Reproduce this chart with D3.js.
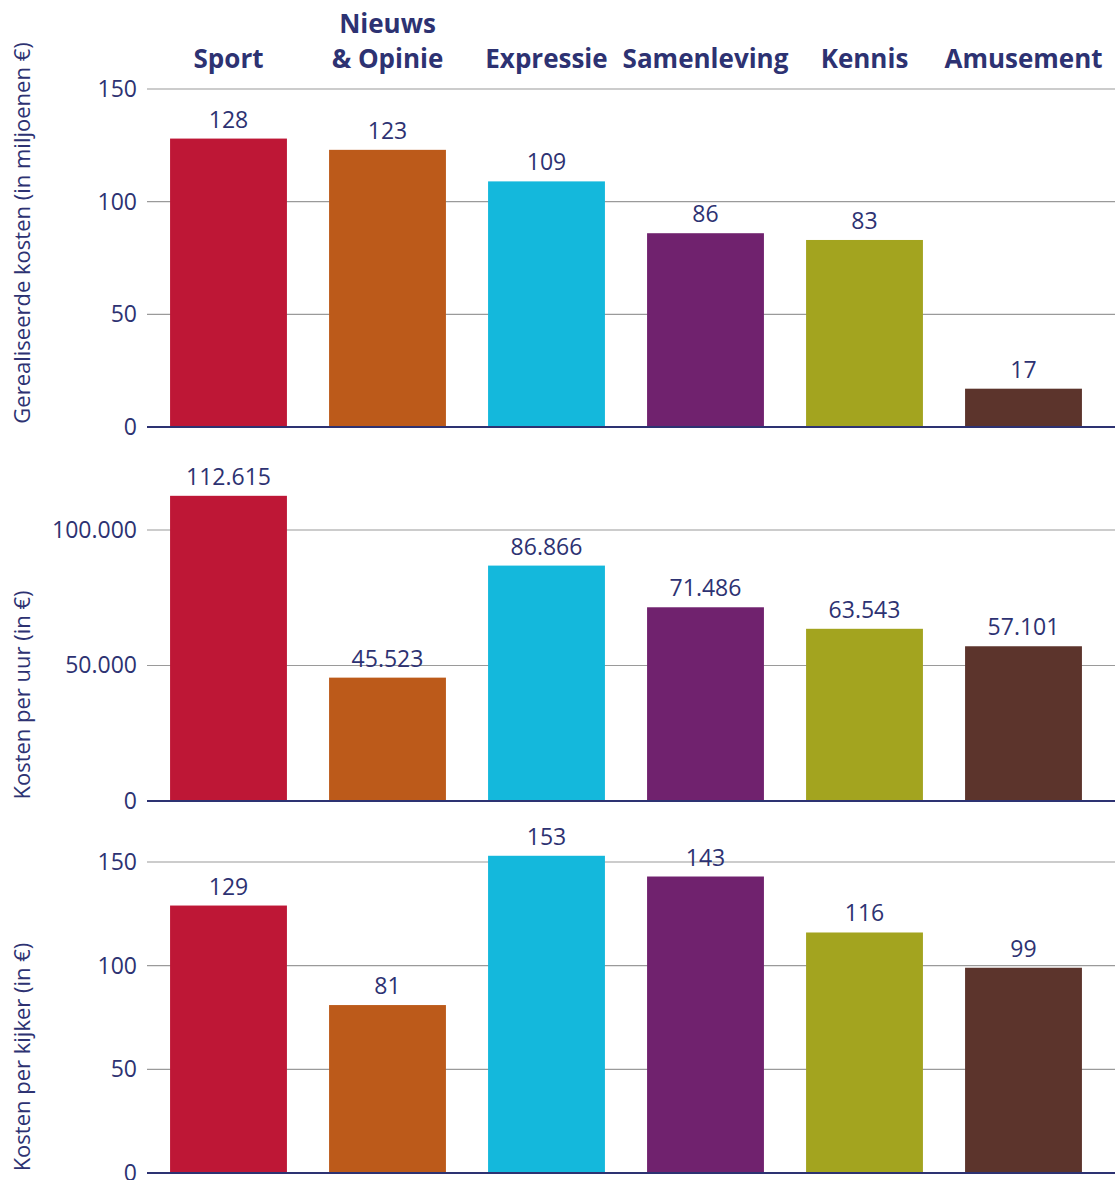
<!DOCTYPE html>
<html>
<head>
<meta charset="utf-8">
<script src="https://cdn.jsdelivr.net/npm/d3@7"></script>
<style>
  body { margin: 0; background: #fff; }
  svg { display: block; font-family: 'Open Sans', sans-serif; }
</style>
</head>
<body>
<div id="chart"></div>
<script>
// categories and their header lines
const categories = ['Sport', 'Nieuws & Opinie', 'Expressie', 'Samenleving', 'Kennis', 'Amusement'];
const headerLines = [['Sport'], ['Nieuws', '& Opinie'], ['Expressie'], ['Samenleving'], ['Kennis'], ['Amusement']];
const colors = ['#be1736', '#bc5a1a', '#14b8dc', '#70226e', '#a3a41f', '#5c342c'];

// series
const kosten = [128, 123, 109, 86, 83, 17];
const kostenPerUur = [112615, 45523, 86866, 71486, 63543, 57101];
const kostenPerKijker = [129, 81, 153, 143, 116, 99];

// ticks
const ticksKosten = [0, 50, 100, 150];
const ticksPerUur = [0, 50000, 100000];
const ticksPerKijker = [0, 50, 100, 150];

const titles = ['Gerealiseerde kosten (in miljoenen €)', 'Kosten per uur (in €)', 'Kosten per kijker (in €)'];

const W = 1115, H = 1180;
const navy = '#2d3272';
const nl = d3.formatLocale({decimal: ',', thousands: '.', grouping: [3], currency: ['€', '']});
const fmt = nl.format(',d');

const svg = d3.select('#chart').append('svg').attr('width', W).attr('height', H);

const x = d3.scaleBand().domain(categories).range([149, 1103]).paddingInner(0.265).paddingOuter(0.1325);

// panel layout: y-pixel of zero and of the top tick
const panels = [
  {data: kosten, ticks: ticksKosten, y0: 427, yTop: 89, title: titles[0], titleY: 233},
  {data: kostenPerUur, ticks: ticksPerUur, y0: 801, yTop: 530, title: titles[1], titleY: 695},
  {data: kostenPerKijker, ticks: ticksPerKijker, y0: 1173, yTop: 862, title: titles[2], titleY: 1057}
];

// headers
const hdr = svg.append('g').attr('fill', navy).attr('font-weight', 700).attr('font-size', 26)
  .attr('text-anchor', 'middle');
categories.forEach((c, i) => {
  const lines = headerLines[i];
  lines.forEach((l, j) => {
    hdr.append('text')
      .attr('x', x(c) + x.bandwidth() / 2)
      .attr('y', 68 - (lines.length - 1 - j) * 35)
      .text(l);
  });
});

panels.forEach(p => {
  const top = p.ticks[p.ticks.length - 1];
  const y = d3.scaleLinear().domain([0, top]).range([p.y0, p.yTop]);
  const g = svg.append('g');

  // grid lines
  g.selectAll('line.grid')
    .data(p.ticks.filter(t => t > 0))
    .join('line')
    .attr('x1', 147).attr('x2', W)
    .attr('y1', d => y(d)).attr('y2', d => y(d))
    .attr('stroke', '#9a9a9a').attr('stroke-width', 1.2);

  // y axis labels
  const ax = g.append('g').attr('transform', 'translate(147,0)')
    .call(d3.axisLeft(y).tickValues(p.ticks).tickSize(0).tickPadding(10).tickFormat(fmt));
  ax.select('.domain').remove();
  ax.selectAll('text').attr('fill', navy).style('font-size', '23px').style('font-family', 'Open Sans');

  // bars
  g.selectAll('rect')
    .data(p.data)
    .join('rect')
    .attr('x', (d, i) => x(categories[i]))
    .attr('width', x.bandwidth())
    .attr('y', d => y(d))
    .attr('height', d => y(0) - y(d))
    .attr('fill', (d, i) => colors[i]);

  // value labels
  g.selectAll('text.val')
    .data(p.data)
    .join('text')
    .attr('class', 'val')
    .attr('x', (d, i) => x(categories[i]) + x.bandwidth() / 2)
    .attr('y', d => y(d) - 11)
    .attr('text-anchor', 'middle')
    .attr('fill', navy)
    .attr('font-size', 23)
    .text(d => fmt(d));

  // baseline
  g.append('line')
    .attr('x1', 147).attr('x2', W)
    .attr('y1', y(0)).attr('y2', y(0))
    .attr('stroke', navy).attr('stroke-width', 2);

  // axis title
  svg.append('text')
    .attr('transform', `translate(30,${p.titleY}) rotate(-90)`)
    .attr('text-anchor', 'middle')
    .attr('fill', navy)
    .attr('font-size', 22)
    .text(p.title);
});
</script>
</body>
</html>
